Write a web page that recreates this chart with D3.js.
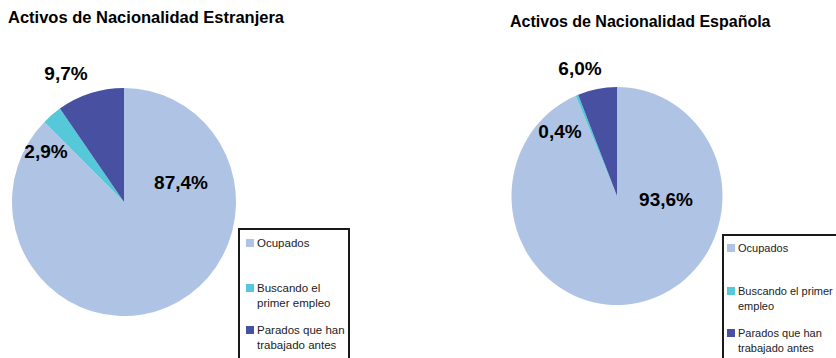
<!DOCTYPE html>
<html>
<head>
<meta charset="utf-8">
<script src="https://cdn.jsdelivr.net/npm/d3@7"></script>
<style>
  html, body { margin: 0; padding: 0; background: #fff; }
  svg { display: block; font-family: "Liberation Sans", Arial, sans-serif; }
</style>
</head>
<body>
<svg id="chart" width="836" height="358"></svg>
<script>
// Activos por situación laboral, según nacionalidad (porcentajes)
const categories = ["Ocupados", "Buscando el primer empleo", "Parados que han trabajado antes"];
const titles = ["Activos de Nacionalidad Estranjera", "Activos de Nacionalidad Española"];
const valuesEstranjera = [87.4, 2.9, 9.7];
const valuesEspanola = [93.6, 0.4, 6.0];
const colors = ["#AFC4E5", "#55C8D9", "#4851A1"];

// Layout of each panel
const panels = [
  {
    title: titles[0], values: valuesEstranjera,
    titleX: 8, titleY: 23, titleSize: 16.5,
    cx: 124, cy: 202, rx: 112, ry: 114,
    labelOffsets: [[57, -13], [-78, -44], [-58, -122]],
    legend: {
      x: 239, y: 229, w: 110, h: 140, font: 11.5, swatchX: 7, textX: 18,
      lines: [["Ocupados"], ["Buscando el", "primer empleo"], ["Parados que han", "trabajado antes"]],
      rowY: [18, 63, 105]
    }
  },
  {
    title: titles[1], values: valuesEspanola,
    titleX: 510, titleY: 27, titleSize: 16,
    cx: 617, cy: 196, rx: 105.5, ry: 109,
    labelOffsets: [[49, 10], [-57, -58], [-37, -121]],
    legend: {
      x: 723, y: 235, w: 130, h: 140, font: 11, swatchX: 4, textX: 15,
      lines: [["Ocupados"], ["Buscando el primer", "empleo"], ["Parados que han", "trabajado antes"]],
      rowY: [17, 60, 102]
    }
  }
];

const svg = d3.select("#chart");
const pie = d3.pie().sort(null).value(d => d);
const fmt = v => d3.format(".1f")(v).replace(".", ",") + "%";

panels.forEach(p => {
  svg.append("text")
    .attr("x", p.titleX).attr("y", p.titleY)
    .attr("font-size", p.titleSize).attr("font-weight", "bold").attr("fill", "#000")
    .text(p.title);

  const arc = d3.arc().innerRadius(0).outerRadius(p.rx);
  const g = svg.append("g")
    .attr("transform", `translate(${p.cx},${p.cy}) scale(1,${p.ry / p.rx})`);
  const arcs = pie(p.values);
  g.selectAll("path").data(arcs).join("path")
    .attr("d", arc)
    .attr("fill", (d, i) => colors[i]);

  svg.append("g").selectAll("text").data(arcs).join("text")
    .attr("x", (d, i) => p.cx + p.labelOffsets[i][0])
    .attr("y", (d, i) => p.cy + p.labelOffsets[i][1])
    .attr("text-anchor", "middle")
    .attr("font-size", 19).attr("font-weight", "bold").attr("fill", "#000")
    .text(d => fmt(d.data));

  const L = p.legend;
  const lg = svg.append("g").attr("transform", `translate(${L.x},${L.y})`);
  lg.append("rect")
    .attr("width", L.w).attr("height", L.h)
    .attr("fill", "#fff").attr("stroke", "#1a1a1a").attr("stroke-width", 2);
  categories.forEach((c, i) => {
    const y = L.rowY[i];
    lg.append("rect")
      .attr("x", L.swatchX).attr("y", y - 8).attr("width", 8).attr("height", 8)
      .attr("fill", colors[i]);
    L.lines[i].forEach((t, j) => {
      lg.append("text")
        .attr("x", L.textX).attr("y", y + j * 15)
        .attr("font-size", L.font).attr("fill", "#222")
        .text(t);
    });
  });
});
</script>
</body>
</html>
